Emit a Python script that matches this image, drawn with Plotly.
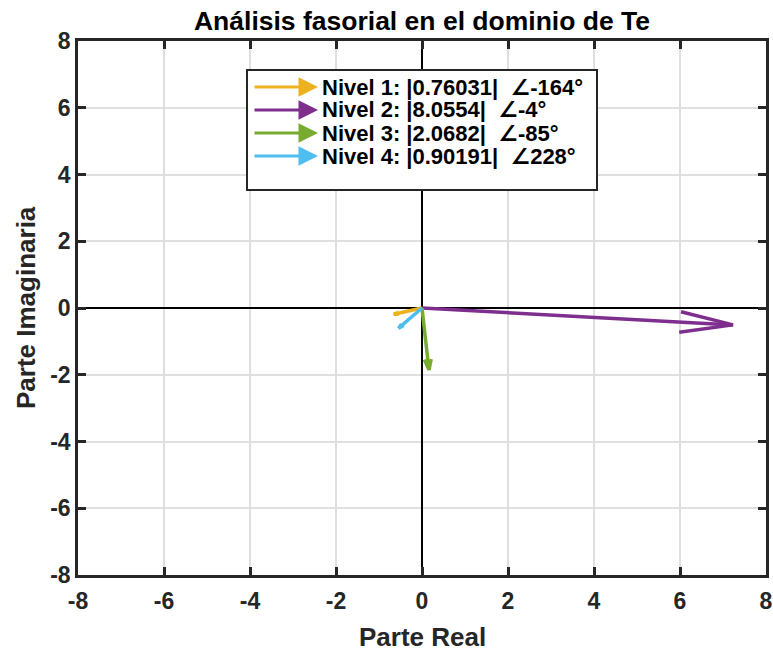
import numpy as np
import plotly.graph_objects as go

# phasor data (magnitude, angle in degrees) per level
niveles = ["Nivel 1", "Nivel 2", "Nivel 3", "Nivel 4"]
magnitudes = [0.76031, 8.0554, 2.0682, 0.90191]
angulos = [-164, -4, -85, 228]
colores = ["#EDB120", "#7E2F8E", "#77AC30", "#4DBEEE"]
quiver_scale = 0.9  # matlab quiver autoscale

x_ticks = [-8, -6, -4, -2, 0, 2, 4, 6, 8]
y_ticks = [-8, -6, -4, -2, 0, 2, 4, 6, 8]

FONT = "Liberation Sans, Arial, DejaVu Sans, sans-serif"
INK = "#262626"

FIG_W, FIG_H = 773, 652
# plot area in pixels
L, R, T, B = 78, 766, 41, 575
W, H = R - L, B - T


def px(xp):
    return (xp - L) / W


def py(yp):
    return (B - yp) / H


fig = go.Figure()

# arrows drawn like matlab quiver: shaft + two head lines
alpha, beta = 0.17, 0.25
for mag, ang, col in zip(magnitudes, angulos, colores):
    u = quiver_scale * mag * np.cos(np.radians(ang))
    v = quiver_scale * mag * np.sin(np.radians(ang))
    h1x = u - alpha * (u + beta * v)
    h1y = v - alpha * (v - beta * u)
    h2x = u - alpha * (u - beta * v)
    h2y = v - alpha * (v + beta * u)
    fig.add_trace(go.Scatter(
        x=[0, u, None, h1x, u, h2x],
        y=[0, v, None, h1y, v, h2y],
        mode="lines",
        line=dict(color=col, width=3.5),
        showlegend=False,
        hoverinfo="skip"
    ))

axis_common = dict(
    range=[-8, 8],
    automargin=False,
    showgrid=True, gridcolor="#dfdfdf", gridwidth=2,
    zeroline=True, zerolinecolor="black", zerolinewidth=2,
    showline=True, linecolor=INK, linewidth=2.5, mirror="ticks",
    ticks="inside", ticklen=8, tickwidth=2.5, tickcolor=INK,
    tickfont=dict(family=FONT, size=23, color=INK, weight="bold"),
)

fig.update_xaxes(tickvals=x_ticks, ticktext=[str(t) for t in x_ticks],
                 ticklabelstandoff=4, **axis_common)
fig.update_yaxes(tickvals=y_ticks, ticktext=[str(t) for t in y_ticks], **axis_common)

# axis titles
fig.add_annotation(xref="paper", yref="paper", x=0.5, y=py(637),
                   xanchor="center", yanchor="middle", showarrow=False,
                   text="<b>Parte Real</b>",
                   font=dict(family=FONT, size=26, color=INK))
fig.add_annotation(xref="paper", yref="paper", x=px(26), y=0.5,
                   xanchor="center", yanchor="middle", showarrow=False,
                   textangle=-90, text="<b>Parte Imaginaria</b>",
                   font=dict(family=FONT, size=26, color=INK))

# manual legend with arrow icons
fig.add_shape(type="rect", xref="paper", yref="paper",
              x0=px(247), x1=px(597), y0=py(190), y1=py(70),
              line=dict(color=INK, width=2), fillcolor="white", layer="above")
row_y = [87, 110, 133, 156]
for name, mag, ang, col, ry in zip(niveles, magnitudes, angulos, colores, row_y):
    fig.add_annotation(xref="paper", yref="paper", x=px(318), y=py(ry),
                       ax=-65, ay=0, text="", showarrow=True,
                       arrowhead=2, arrowsize=1.3, arrowwidth=3, arrowcolor=col)
    fig.add_annotation(xref="paper", yref="paper", x=px(320), y=py(ry),
                       xanchor="left", yanchor="middle", showarrow=False,
                       text=f"<b>{name}: |{mag:g}|  ∠{ang}°</b>",
                       font=dict(family=FONT, size=22, color="black"))

fig.update_layout(
    width=FIG_W, height=FIG_H,
    margin=dict(l=L, r=FIG_W - R, t=T, b=FIG_H - B),
    paper_bgcolor="white", plot_bgcolor="white",
    title=dict(text="<b>Análisis fasorial en el dominio de Te</b>",
               x=(L + W / 2) / FIG_W, xanchor="center",
               y=1 - 21 / FIG_H, yanchor="middle",
               font=dict(family=FONT, size=26.5, color="black")),
    showlegend=False
)

# drop the default 8px page margin so the figure fills the window
fig.write_html("out.html", config={"displayModeBar": False},
               post_script="document.body.style.margin='0';")
